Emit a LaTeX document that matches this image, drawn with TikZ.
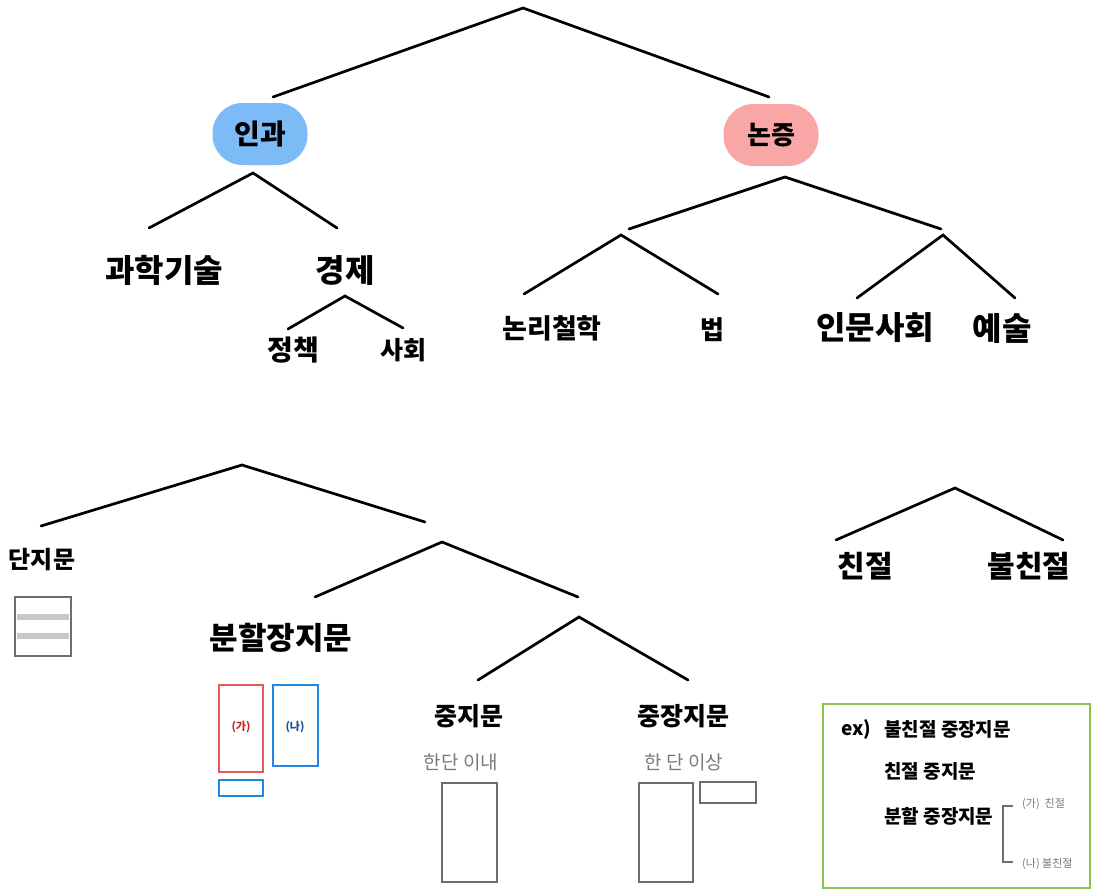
\documentclass[tikz,border=0pt]{standalone}
\usepackage{fontspec}
\usetikzlibrary{calc}
\newfontfamily\kr{Noto Sans CJK KR}
\definecolor{pillblue}{HTML}{7DBBF7}
\definecolor{pillpink}{HTML}{F8A7A6}
\definecolor{boxred}{HTML}{E85A5A}
\definecolor{boxblue}{HTML}{1E88E5}
\definecolor{lblred}{HTML}{C62828}
\definecolor{lblblue}{HTML}{1A4E9A}
\definecolor{boxgray}{HTML}{6E6E6E}
\definecolor{bandgray}{HTML}{C8C8C8}
\definecolor{txtgray}{HTML}{7A7A7A}
\definecolor{exgreen}{HTML}{8BC34A}
\tikzset{
  branch/.style={line width=2.7pt, line cap=round, black},
  lbl/.style={font=\kr\bfseries\fontsize{#1}{#1}\selectfont, inner sep=0pt},
  lbl/.default=26,
  pill/.style={rounded corners=30pt, minimum width=95pt, minimum height=62pt, font=\kr\bfseries\fontsize{#1}{#1}\selectfont},
  pill/.default=26,
  graylbl/.style={font=\kr\fontsize{19}{21}\selectfont, text=txtgray, inner sep=0pt},
  graybox/.style={draw=boxgray, line width=1.8pt},
  exlbl/.style={font=\kr\bfseries\fontsize{19}{22}\selectfont, inner sep=0pt, anchor=west},
  smallgray/.style={font=\kr\fontsize{11}{13}\selectfont, text=txtgray, inner sep=0pt, anchor=west},
  boxlbl/.style={font=\kr\bfseries\fontsize{11}{12}\selectfont, inner sep=0pt}
}
\begin{document}
\begin{tikzpicture}[x=1pt,y=-1pt]
\useasboundingbox (0,0) rectangle (1094,891);
\fill[white] (0,0) rectangle (1094,891);

% ---------- upper tree ----------
\coordinate (r0) at (523,8);
\coordinate (r0l) at (273,97);
\coordinate (r0r) at (769,97);
\draw[branch] (r0l) -- (r0) -- (r0r);

\node[pill=28, fill=pillblue] (ingwa) at (260,134) {인과};
\node[pill=26, fill=pillpink] (nonjeung) at (771,135) {논증};

\coordinate (a1) at (253,173);
\coordinate (a1l) at (149,228);
\coordinate (a1r) at (337,228);
\draw[branch] (a1l) -- (a1) -- (a1r);

\node[lbl=32] (gwahak) at (164,270) {과학기술};
\node[lbl=32] (gyeongje) at (345,270) {경제};

\coordinate (a2) at (345,296);
\coordinate (a2l) at (288,329);
\coordinate (a2r) at (403,328);
\draw[branch] (a2l) -- (a2) -- (a2r);

\node[lbl=28] (jeongchaek) at (293,350) {정책};
\node[lbl=25] (sahoe) at (403,350) {사회};

\coordinate (b1) at (785,177);
\coordinate (b1l) at (629,229);
\coordinate (b1r) at (941,229);
\draw[branch] (b1l) -- (b1) -- (b1r);

\coordinate (b2) at (621,235);
\coordinate (b2l) at (524,294);
\coordinate (b2r) at (718,294);
\draw[branch] (b2l) -- (b2) -- (b2r);

\coordinate (b3) at (943,235);
\coordinate (b3l) at (857,298);
\coordinate (b3r) at (1015,298);
\draw[branch] (b3l) -- (b3) -- (b3r);

\node[lbl=27] (nonri) at (552,328) {논리철학};
\node[lbl=26] (beop) at (712,330) {법};
\node[lbl=32] (inmun) at (875,328) {인문사회};
\node[lbl=32] (yesul) at (1002,328) {예술};

% ---------- lower tree ----------
\coordinate (c1) at (242,465);
\coordinate (c1l) at (41,526);
\coordinate (c1r) at (425,522);
\draw[branch] (c1l) -- (c1) -- (c1r);

\coordinate (c2) at (442,542);
\coordinate (c2l) at (315,597);
\coordinate (c2r) at (578,597);
\draw[branch] (c2l) -- (c2) -- (c2r);

\coordinate (c3) at (579,617);
\coordinate (c3l) at (478,680);
\coordinate (c3r) at (688,680);
\draw[branch] (c3l) -- (c3) -- (c3r);

\node[lbl=24] (danji) at (42,560) {단지문};
\draw[graybox] (15,597) rectangle (71,656);
\draw[bandgray, line width=6pt] (17,617) -- (69,617);
\draw[bandgray, line width=6pt] (17,636) -- (69,636);

\node[lbl=31] (bunhal) at (281,638) {분할장지문};
\draw[boxred, line width=2.6pt] (219,685) rectangle (263,772);
\node[boxlbl, text=lblred] (ga) at (241,727) {(가)};
\draw[boxblue, line width=2.6pt] (273,685) rectangle (318,766);
\node[boxlbl, text=lblblue] (na) at (295,727) {(나)};
\draw[boxblue, line width=2.6pt] (219,780) rectangle (263,796);

\node[lbl=25] (jungji) at (469,716) {중지문};
\node[graylbl] (handan1) at (461,762) {한단 이내};
\draw[graybox] (442,783) rectangle (497,882);

\node[lbl=25] (jungjang) at (683,716) {중장지문};
\node[graylbl] (handan2) at (684,762) {한 단 이상};
\draw[graybox] (639,783) rectangle (693,882);
\draw[graybox] (700,782) rectangle (756,803);

% ---------- right small tree ----------
\coordinate (d1) at (955,488);
\coordinate (d1l) at (836,540);
\coordinate (d1r) at (1063,540);
\draw[branch] (d1l) -- (d1) -- (d1r);
\node[lbl=30] (chinjeol) at (865,566) {친절};
\node[lbl=30] (bulchin) at (1029,566) {불친절};

% ---------- example box ----------
\draw[exgreen, line width=2.4pt] (823,704) rectangle (1090,888);
\node[exlbl] (ex) at (841,729) {ex)};
\node[exlbl] (ex1) at (884,729) {불친절 중장지문};
\node[exlbl] (ex2) at (884,771) {친절 중지문};
\node[exlbl] (ex3) at (884,816) {분할 중장지문};
\coordinate (brt) at (1013,806);
\coordinate (brb) at (1013,862);
\draw[boxgray, line width=2pt] (brt) -- ++(-10,0) -- ($(brb)+(-10,0)$) -- (brb);
\node[smallgray] (exga) at (1022,804) {(가)\ \ 친절};
\node[smallgray] (exna) at (1022,864) {(나) 불친절};
\end{tikzpicture}
\end{document}
